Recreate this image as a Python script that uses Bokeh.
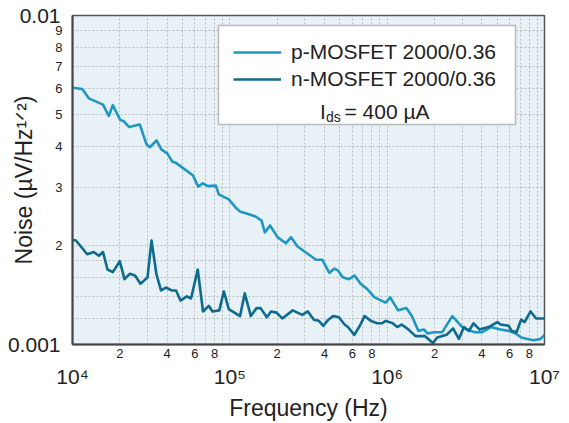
from bokeh.plotting import figure
from bokeh.models import (FixedTicker, LogAxis, Legend, LegendItem, Label,
                          BoxAnnotation)
from bokeh.embed import file_html
from bokeh.resources import INLINE

# ---------------- data ----------------
freq_p = [1.0e4, 1.153e4, 1.27e4, 1.563e4, 1.701e4, 1.804e4, 2.013e4, 2.119e4, 2.294e4, 2.679e4,
          2.954e4, 3.11e4, 3.42e4, 3.68e4, 4.0e4, 4.303e4, 4.516e4, 5.384e4, 5.818e4, 6.298e4,
          6.735e4, 7.245e4, 8.147e4, 8.513e4, 9.85e4, 1.087e5, 1.17e5, 1.277e5, 1.457e5, 1.591e5,
          1.669e5, 1.801e5, 2.011e5, 2.27e5, 2.449e5, 2.683e5, 3.105e5, 3.532e5, 3.867e5, 4.29e5,
          4.609e5, 4.86e5, 5.22e5, 5.708e5, 6.206e5, 6.775e5, 7.396e5, 8.317e5, 9.77e5, 1.046e6,
          1.173e6, 1.324e6, 1.436e6, 1.579e6, 1.717e6, 1.807e6, 1.981e6, 2.24e6, 2.594e6, 3.002e6,
          3.23e6, 3.594e6, 4.023e6, 4.544e6, 5.26e6, 5.94e6, 6.55e6, 7.12e6, 7.777e6, 8.564e6,
          9.446e6, 1.0e7]
noise_p = [0.00603, 0.00598, 0.00560, 0.00536, 0.00495, 0.00534, 0.00481, 0.00477, 0.00458, 0.00466,
           0.00406, 0.00398, 0.00417, 0.00391, 0.00381, 0.00360, 0.00357, 0.00336, 0.00327, 0.00302,
           0.00309, 0.00303, 0.00304, 0.00286, 0.00276, 0.00261, 0.00253, 0.00250, 0.00245, 0.00238,
           0.00219, 0.00230, 0.00212, 0.00203, 0.00212, 0.00199, 0.00189, 0.00181, 0.00181, 0.00165,
           0.00170, 0.00168, 0.00160, 0.00158, 0.00162, 0.00153, 0.00148, 0.00139, 0.00134, 0.00139,
           0.00127, 0.00129, 0.00122, 0.00110, 0.00111, 0.00108, 0.00109, 0.00109, 0.00122, 0.00113,
           0.00111, 0.00109, 0.00109, 0.00113, 0.00111, 0.00110, 0.00108, 0.00105, 0.00104, 0.00103,
           0.00104, 0.00107]

freq_n = [1.0e4, 1.052e4, 1.24e4, 1.366e4, 1.47e4, 1.563e4, 1.669e4, 1.804e4, 1.998e4, 2.141e4,
          2.31e4, 2.496e4, 2.706e4, 2.998e4, 3.178e4, 3.42e4, 3.652e4, 3.93e4, 4.26e4, 4.55e4,
          4.86e4, 5.33e4, 5.667e4, 6.252e4, 6.754e4, 7.354e4, 7.762e4, 8.575e4, 9.16e4, 9.85e4,
          1.161e5, 1.244e5, 1.36e5, 1.478e5, 1.568e5, 1.719e5, 1.828e5, 1.981e5, 2.153e5, 2.511e5,
          2.886e5, 3.133e5, 3.42e5, 3.679e5, 3.93e5, 4.161e5, 4.53e5, 4.932e5, 5.361e5, 5.626e5,
          6.187e5, 6.706e5, 7.183e5, 7.877e5, 8.652e5, 9.254e5, 9.81e5, 1.085e6, 1.159e6, 1.235e6,
          1.368e6, 1.515e6, 1.742e6, 1.952e6, 2.082e6, 2.386e6, 2.624e6, 2.856e6, 3.074e6, 3.307e6,
          3.542e6, 3.867e6, 4.413e6, 5.012e6, 5.26e6, 5.912e6, 6.178e6, 6.646e6, 7.1e6, 7.472e6,
          8.158e6, 8.843e6, 1.0e7]
noise_n = [0.00208, 0.00207, 0.00188, 0.00191, 0.00186, 0.00191, 0.00169, 0.00166, 0.00179, 0.00158,
           0.00164, 0.00162, 0.00153, 0.00160, 0.00207, 0.00163, 0.00146, 0.00149, 0.00146, 0.00146,
           0.00136, 0.00140, 0.00138, 0.00169, 0.00126, 0.00131, 0.00126, 0.00127, 0.00145, 0.00128,
           0.00122, 0.00143, 0.00122, 0.00129, 0.00129, 0.00121, 0.00126, 0.00125, 0.00120, 0.00127,
           0.00123, 0.00126, 0.00119, 0.00118, 0.00114, 0.00118, 0.00122, 0.00121, 0.00115, 0.00113,
           0.00107, 0.00114, 0.00122, 0.00118, 0.00116, 0.00116, 0.00118, 0.00116, 0.00113, 0.00115,
           0.00111, 0.00106, 0.00106, 0.00101, 0.00105, 0.00107, 0.00112, 0.00104, 0.00113, 0.00110,
           0.00116, 0.00111, 0.00113, 0.00117, 0.00115, 0.00114, 0.00110, 0.00109, 0.00119, 0.00117,
           0.00126, 0.00120, 0.00120]

series_labels = ["p-MOSFET 2000/0.36", "n-MOSFET 2000/0.36"]
x_title = "Frequency (Hz)"
y_title = "Noise (\u00b5V/Hz\u00b9\u141f\u00b2)"

x_decades = [1e4, 1e5, 1e6, 1e7]
x_decade_labels = ["10\u2074", "10\u2075", "10\u2076", "10\u2077"]
x_minor_mult = [2, 4, 6, 8]
x_grid_mult = [2, 3, 4, 5, 6, 7, 8, 9]
y_decades = [0.001, 0.01]
y_decade_labels = ["0.001", "0.01"]
y_minor_mult = [2, 3, 4, 5, 6, 7, 8, 9]
y_grid_extra = [1.2, 1.4, 1.6, 1.8]

FONT = "Liberation Sans"
C_P = "#1f97c3"
C_N = "#0c6b8f"
TXT = "#222222"

# ---------------- figure ----------------
FL, FR, FT, FB = 72, 544, 15, 345   # frame edges in canvas pixels
W, H = 569, 423

p = figure(width=W, height=H, x_axis_type="log", y_axis_type="log",
           x_range=(1e4, 1e7), y_range=(1e-3, 1e-2),
           output_backend="svg", toolbar_location=None,
           min_border_left=FL, min_border_right=W - FR,
           min_border_top=FT, min_border_bottom=H - FB)
p.background_fill_color = "#e8f1f6"
p.border_fill_color = "white"
p.outline_line_color = "#555555"
p.outline_line_width = 1.5


def plain_axis(ax, size, standoff):
    ax.major_tick_line_color = None
    ax.minor_tick_line_color = None
    ax.major_tick_out = 0
    ax.major_tick_in = 0
    ax.minor_tick_out = 0
    ax.minor_tick_in = 0
    ax.major_label_standoff = standoff
    ax.major_label_text_font = FONT
    ax.major_label_text_font_size = size
    ax.major_label_text_color = TXT
    ax.axis_label_text_font = FONT
    ax.axis_label_text_font_size = "23px"
    ax.axis_label_text_font_style = "normal"
    ax.axis_label_text_color = TXT


# x axis (small 2,4,6,8 labels)
x_small_ticks = [d * m for d in x_decades[:-1] for m in x_minor_mult]
x_small_text = [str(m) for d in x_decades[:-1] for m in x_minor_mult]
xa = p.xaxis[0]
xa.ticker = FixedTicker(ticks=x_small_ticks, minor_ticks=[])
xa.major_label_overrides = dict(zip(x_small_ticks, x_small_text))
plain_axis(xa, "13px", 4)
xa.axis_line_color = "#444444"
xa.axis_line_width = 2

# second x axis: decade labels + title
xd = LogAxis(ticker=FixedTicker(ticks=x_decades, minor_ticks=[]))
xd.major_label_overrides = dict(zip(x_decades, x_decade_labels))
plain_axis(xd, "21px", 4)
xd.axis_line_color = None
xd.axis_label = x_title
xd.axis_label_standoff = 4
p.add_layout(xd, "below")

# y axis (small 2..9 labels)
y_small_ticks = [y_decades[0] * m for m in y_minor_mult]
ya = p.yaxis[0]
ya.ticker = FixedTicker(ticks=y_small_ticks, minor_ticks=[])
ya.major_label_overrides = dict(zip(y_small_ticks, [str(m) for m in y_minor_mult]))
plain_axis(ya, "13px", 10)
ya.axis_line_color = "#444444"
ya.axis_line_width = 2

# second y axis: decade labels + title (pulled back over the first one)
yd = LogAxis(ticker=FixedTicker(ticks=y_decades, minor_ticks=[]))
yd.major_label_overrides = dict(zip(y_decades, y_decade_labels))
plain_axis(yd, "21px", -8)
yd.axis_line_color = None
yd.axis_label = y_title
yd.axis_label_standoff = -32
p.add_layout(yd, "left")

# grids
x_grid_ticks = [d * m for d in x_decades[:-1] for m in x_grid_mult] + x_decades[1:-1]
y_grid_ticks = [y_decades[0] * m for m in y_grid_extra] + y_small_ticks
p.xgrid.ticker = FixedTicker(ticks=x_grid_ticks, minor_ticks=[])
p.ygrid.ticker = FixedTicker(ticks=y_grid_ticks, minor_ticks=[])
for g in (p.xgrid, p.ygrid):
    g.grid_line_color = "#bcbcbc"
    g.grid_line_dash = "2 2"
    g.grid_line_width = 1

# ---------------- lines ----------------
rp = p.line(freq_p, noise_p, line_color=C_P, line_width=2.6, line_join="round")
rn = p.line(freq_n, noise_n, line_color=C_N, line_width=2.6, line_join="round")

# ---------------- helpers for screen placement (frame-relative) ----------------
def sx(cx):
    return cx - FL

def sy(cy):
    return FB - cy

# legend box
box = BoxAnnotation(left=sx(218), right=sx(515), top=sy(26), bottom=sy(125),
                    left_units="screen", right_units="screen",
                    top_units="screen", bottom_units="screen",
                    fill_color="white", fill_alpha=1.0,
                    line_color="#333333", line_width=1.5)
p.add_layout(box)

legend = Legend(items=[LegendItem(label=series_labels[0], renderers=[rp]),
                       LegendItem(label=series_labels[1], renderers=[rn])],
                location=(sx(233), sy(92)), padding=0, spacing=3, margin=0,
                glyph_width=48, glyph_height=24, label_height=24, label_standoff=10,
                label_text_font=FONT, label_text_font_size="21px", label_text_color=TXT,
                border_line_alpha=0, background_fill_alpha=0)
p.add_layout(legend)

def lab(text, cx, cy, size):
    p.add_layout(Label(x=sx(cx), y=sy(cy), x_units="screen", y_units="screen",
                       text=text, text_font=FONT, text_font_size=size,
                       text_color=TXT, text_align="left", text_baseline="alphabetic"))

# I_ds = 400 µA
lab("I", 319.5, 111.7, "21px")
lab("ds", 325.5, 117.5, "14px")
lab("= 400 \u00b5A", 344, 111.7, "21px")

open("out.html", "w").write(file_html(p, INLINE))
